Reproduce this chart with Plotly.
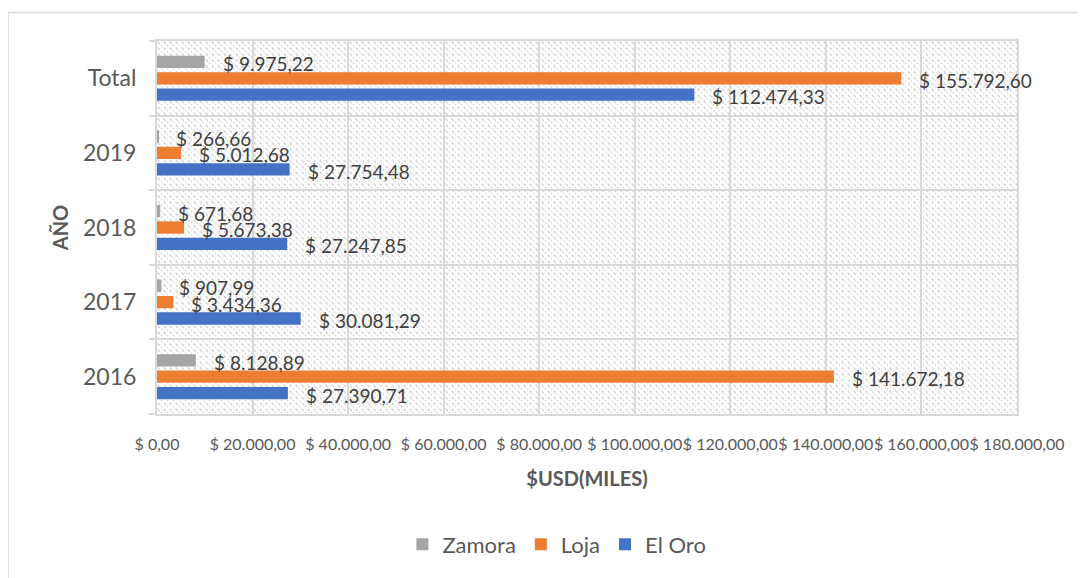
import base64
import plotly.graph_objects as go

# ---- data ----
categories = ["2016", "2017", "2018", "2019", "Total"]
el_oro = [27390.71, 30081.29, 27247.85, 27754.48, 112474.33]
loja = [141672.18, 3434.36, 5673.38, 5012.68, 155792.60]
zamora = [8128.89, 907.99, 671.68, 266.66, 9975.22]
series_names = ["El Oro", "Loja", "Zamora"]
tick_values = [0, 20000, 40000, 60000, 80000, 100000, 120000, 140000, 160000, 180000]
tick_labels = ["$ 0,00", "$ 20.000,00", "$ 40.000,00", "$ 60.000,00", "$ 80.000,00",
               "$ 100.000,00", "$ 120.000,00", "$ 140.000,00", "$ 160.000,00", "$ 180.000,00"]
x_title = "$USD(MILES)"
y_title = "AÑO"

colors = ["#4472C4", "#ED7D31", "#A5A5A5"]
FONT = "Lato"
BARGAP = 0.34
GROUPGAP = 0.25


def fmt(v):
    s = f"{v:,.2f}"
    s = s.replace(",", "X").replace(".", ",").replace("X", ".")
    return "$ " + s


fig = go.Figure()
all_series = [el_oro, loja, zamora]
for name, vals, col in zip(series_names, all_series, colors):
    fig.add_trace(go.Bar(
        y=categories, x=vals, name=name, orientation="h",
        marker=dict(color=col, line=dict(width=0)),
        hoverinfo="x+name",
    ))

# data labels next to each bar end
slot = (1 - BARGAP) / 3
annotations = []
for i, vals in enumerate(all_series):
    off = (i - 1) * slot
    for j, v in enumerate(vals):
        annotations.append(dict(
            x=v, y=j + off, xref="x", yref="y", text=fmt(v), showarrow=False,
            xanchor="left", yanchor="middle", xshift=16, yshift=-2,
            font=dict(family=FONT, size=19, color="#404040"),
        ))

# hatched plot background
W, H = 860, 378
svg = f'''<svg xmlns="http://www.w3.org/2000/svg" width="{W}" height="{H}" viewBox="0 0 {W} {H}" preserveAspectRatio="none">
<defs><pattern id="p" width="6" height="6" patternUnits="userSpaceOnUse">
<rect width="6" height="6" fill="#ffffff"/>
<path d="M0.5,0.5 L3,3" stroke="#cfcfcf" stroke-width="1.2"/>
<circle cx="4.6" cy="4.6" r="0.8" fill="#cfcfcf"/>
</pattern></defs>
<rect width="{W}" height="{H}" fill="url(#p)"/></svg>'''
src = "data:image/svg+xml;base64," + base64.b64encode(svg.encode()).decode()

fig.update_layout(
    width=1078, height=570,
    margin=dict(l=149, r=69, t=33, b=159),
    paper_bgcolor="white", plot_bgcolor="white",
    barmode="group", bargap=BARGAP, bargroupgap=GROUPGAP,
    font=dict(family=FONT, color="#595959"),
    showlegend=True,
    legend=dict(orientation="h", traceorder="reversed", x=0.465, xanchor="center",
                y=-0.35, yanchor="middle", font=dict(family=FONT, size=22, color="#595959"),
                itemwidth=30, bgcolor="rgba(0,0,0,0)"),
    annotations=annotations,
    images=[dict(source=src, xref="paper", yref="paper", x=0, y=1, sizex=1, sizey=1,
                 xanchor="left", yanchor="top", sizing="stretch", layer="below")],
    shapes=[dict(type="rect", xref="paper", yref="paper", x0=-0.1733, x1=1.3,
                 y0=-1.0, y1=1.0767, line=dict(color="#d9d9d9", width=1.5),
                 fillcolor="rgba(0,0,0,0)", layer="below")],
)

fig.update_xaxes(
    range=[0, 180000], tickvals=tick_values, ticktext=tick_labels, tickangle=0,
    showgrid=True, gridcolor="#d9d9d9", gridwidth=2, zeroline=False,
    showline=True, linecolor="#d9d9d9", linewidth=2, mirror=True,
    ticks="", tickfont=dict(family=FONT, size=16, color="#595959"),
    ticklabelstandoff=15, automargin=False,
    title=dict(text=f"<b>{x_title}</b>", font=dict(family=FONT, size=20, color="#595959"),
               standoff=20),
    fixedrange=True,
)
fig.update_yaxes(
    type="category", categoryorder="array", categoryarray=categories,
    tickson="boundaries", showgrid=True, gridcolor="#d9d9d9", gridwidth=2,
    showline=True, linecolor="#d9d9d9", linewidth=2, mirror=True,
    ticks="outside", ticklen=6, tickcolor="#d9d9d9", tickwidth=2,
    tickfont=dict(family=FONT, size=23, color="#595959"),
    ticklabelstandoff=14,
    title=dict(text=f"<b>{y_title}</b>", font=dict(family=FONT, size=20, color="#595959"),
               standoff=9),
    fixedrange=True,
)

fig.write_html("out.html")
